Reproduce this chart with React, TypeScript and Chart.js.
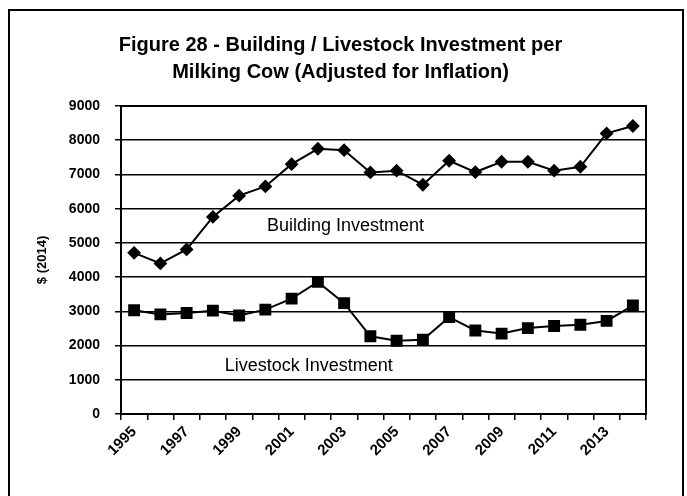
import React, { useEffect, useRef } from 'react';
import { Chart, registerables } from 'chart.js';

Chart.register(...registerables);

const years = ['1995', '1996', '1997', '1998', '1999', '2000', '2001', '2002', '2003', '2004', '2005', '2006', '2007', '2008', '2009', '2010', '2011', '2012', '2013', '2014'];
const buildingInvestment = [4710, 4400, 4810, 5760, 6380, 6650, 7300, 7750, 7710, 7060, 7110, 6700, 7400, 7070, 7370, 7370, 7110, 7225, 8200, 8415];
const livestockInvestment = [3030, 2910, 2950, 3020, 2880, 3050, 3370, 3860, 3240, 2270, 2140, 2170, 2830, 2440, 2350, 2510, 2570, 2610, 2720, 3170];
const yMin = 0;
const yMax = 9000;
const yStep = 1000;
const titleLines = ['Figure 28 - Building / Livestock Investment per', 'Milking Cow (Adjusted for Inflation)'];
const yAxisTitle = '$ (2014)';
const seriesLabels = ['Building Investment', 'Livestock Investment'];
// anchors for the in-chart series labels: [category index, value]
const seriesLabelAnchors = [
  [8.05, 5500],
  [6.65, 1400],
];

const FONT = 'Arial, "Liberation Sans", sans-serif';

const framePlugin = {
  id: 'plotFrame',
  afterDatasetsDraw(chart: any) {
    const { ctx, scales } = chart;
    ctx.save();
    ctx.fillStyle = '#000';
    ctx.font = `18px ${FONT}`;
    ctx.textAlign = 'center';
    ctx.textBaseline = 'middle';
    seriesLabels.forEach((t, i) => {
      const [cx, cy] = seriesLabelAnchors[i];
      ctx.fillText(t, scales.x.getPixelForValue(cx), scales.y.getPixelForValue(cy));
    });
    ctx.restore();
  },
  afterDraw(chart: any) {
    const { ctx, chartArea: a } = chart;
    ctx.save();
    ctx.strokeStyle = '#000';
    ctx.lineWidth = 2;
    ctx.strokeRect(a.left, a.top, a.right - a.left, a.bottom - a.top);
    ctx.restore();
  },
};

export default function App() {
  const ref = useRef<HTMLCanvasElement | null>(null);

  useEffect(() => {
    if (!ref.current) return;
    const chart = new Chart(ref.current, {
      type: 'line',
      data: {
        labels: years,
        datasets: [
          {
            label: seriesLabels[0],
            data: buildingInvestment,
            borderColor: '#000',
            backgroundColor: '#000',
            borderWidth: 2,
            pointStyle: 'rectRot',
            pointRadius: 5.5,
            pointBackgroundColor: '#000',
            pointBorderColor: '#000',
            tension: 0,
          },
          {
            label: seriesLabels[1],
            data: livestockInvestment,
            borderColor: '#000',
            backgroundColor: '#000',
            borderWidth: 2,
            pointStyle: 'rect',
            pointRadius: 7,
            pointBackgroundColor: '#000',
            pointBorderColor: '#000',
            tension: 0,
          },
        ],
      },
      options: {
        animation: false,
        responsive: false,
        devicePixelRatio: 1,
        layout: { padding: { left: 35, right: 41, top: 0, bottom: 0 } },
        plugins: {
          legend: { display: false },
          tooltip: { enabled: false },
          title: {
            display: true,
            text: titleLines,
            color: '#000',
            font: { family: FONT, size: 20, weight: 'bold', lineHeight: 1.35 },
            padding: { top: 32, bottom: 20 },
          },
        },
        scales: {
          x: {
            type: 'category',
            offset: true,
            afterFit: (s: any) => { s.height = 82; },
            grid: {
              offset: true,
              drawOnChartArea: false,
              drawTicks: true,
              tickLength: 6,
              color: '#000',
              lineWidth: 1.5,
            },
            border: { display: true, color: '#000', width: 2 },
            ticks: {
              autoSkip: false,
              minRotation: 45,
              maxRotation: 45,
              padding: 3,
              color: '#000',
              font: { family: FONT, size: 15, weight: 'bold' },
              callback: (_v: any, i: number) => (i % 2 === 0 ? years[i] : ''),
            },
          },
          y: {
            min: yMin,
            max: yMax,
            afterFit: (s: any) => { s.width = 86; },
            ticks: {
              stepSize: yStep,
              padding: 15,
              color: '#000',
              font: { family: FONT, size: 14, weight: 'bold' },
              callback: (v: any) => String(v),
            },
            grid: {
              color: '#000',
              lineWidth: 1.5,
              drawTicks: true,
              tickLength: 6,
            },
            border: { display: true, color: '#000', width: 2 },
            title: {
              display: true,
              text: yAxisTitle,
              color: '#000',
              font: { family: FONT, size: 13, weight: 'bold' },
              padding: { top: 0, bottom: 0 },
            },
          },
        },
      },
      plugins: [framePlugin],
    });
    return () => chart.destroy();
  }, []);

  return (
    <div style={{ position: 'absolute', left: 0, top: 0, width: 687, height: 496, overflow: 'hidden', background: '#fff' }}>
      <div
        style={{
          position: 'absolute',
          left: 8,
          top: 9,
          width: 676,
          height: 520,
          border: '2px solid #000',
          boxSizing: 'border-box',
        }}
      />
      <canvas ref={ref} width={687} height={496} style={{ position: 'absolute', left: 0, top: 0, width: 687, height: 496 }} />
    </div>
  );
}
